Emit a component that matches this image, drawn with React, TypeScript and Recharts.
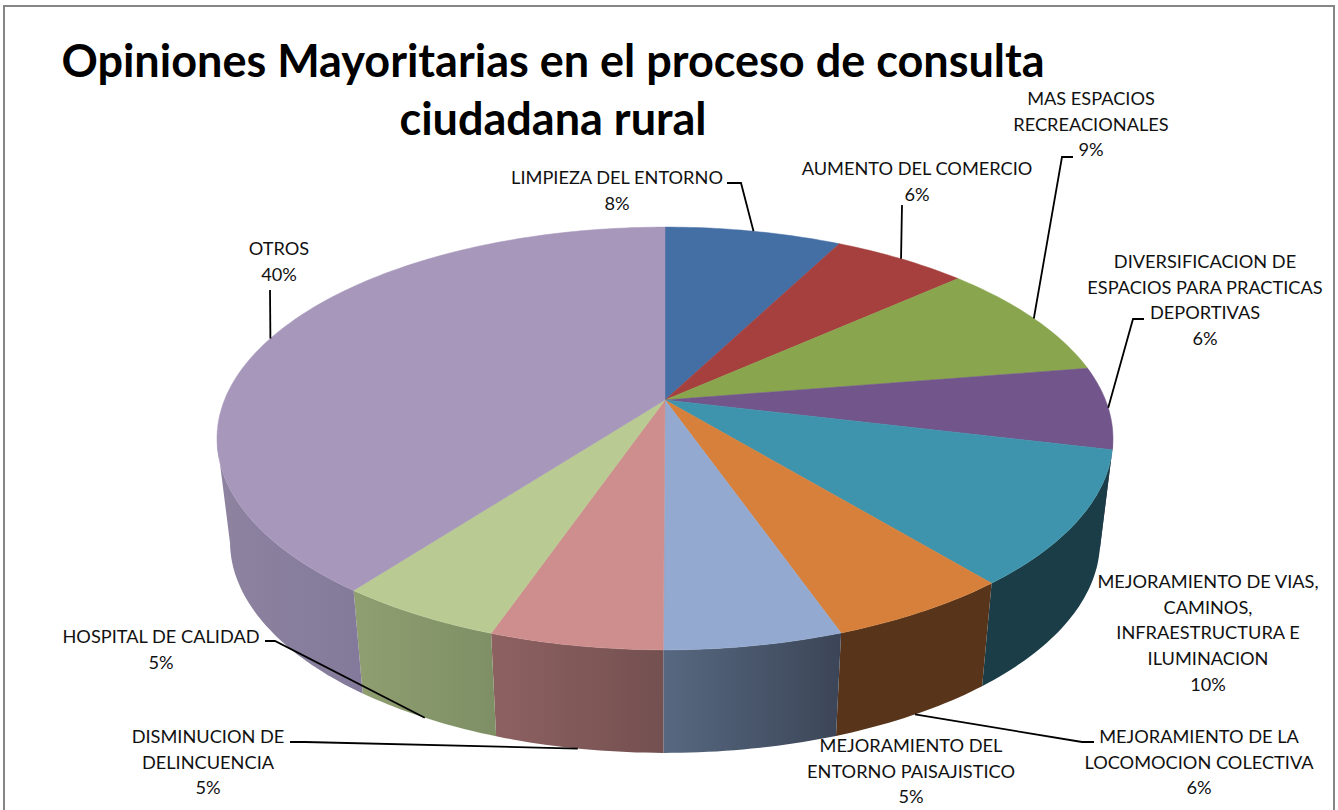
import { PieChart, Pie } from 'recharts';

const categories = [
  'LIMPIEZA DEL ENTORNO',
  'AUMENTO DEL COMERCIO',
  'MAS ESPACIOS RECREACIONALES',
  'DIVERSIFICACION DE ESPACIOS PARA PRACTICAS DEPORTIVAS',
  'MEJORAMIENTO DE VIAS, CAMINOS, INFRAESTRUCTURA E ILUMINACION',
  'MEJORAMIENTO DE LA LOCOMOCION COLECTIVA',
  'MEJORAMIENTO DEL ENTORNO PAISAJISTICO',
  'DISMINUCION DE DELINCUENCIA',
  'HOSPITAL DE CALIDAD',
  'OTROS',
];
const values = [7.6, 5.8, 9.05, 6.3, 10.25, 5.63, 5.42, 5.25, 5.03, 39.67];
const percentLabels = ['8%', '6%', '9%', '6%', '10%', '6%', '5%', '5%', '5%', '40%'];

const data = categories.map((name, i) => ({ name, value: values[i] }));

// colores de la cara superior y degradado de la pared
const topColors = ['#446FA5', '#A5403E', '#89A54E', '#71558B', '#3F94AD', '#D7803B', '#93A9CF', '#CE8E8D', '#B9CB92', '#A797BB'];
const wallFrom = ['#2A4566', '#672827', '#556630', '#463556', '#1A3D47', '#57341A', '#566880', '#8E6161', '#8F9F70', '#8E84A0'];
const wallTo = ['#2A4566', '#672827', '#556630', '#463556', '#1A3D47', '#57341A', '#3C4557', '#745050', '#7E8F66', '#83799A'];

// caja de cada etiqueta: lineas, centro, primera linea y codo de la guia
const labelLayout = [
  { lines: ['LIMPIEZA DEL ENTORNO'], x: 617, y: 177, elbow: [[727, 183], [741, 183]] },
  { lines: ['AUMENTO DEL COMERCIO'], x: 917, y: 168, elbow: [[902, 205]] },
  { lines: ['MAS ESPACIOS', 'RECREACIONALES'], x: 1091, y: 98, elbow: [[1073, 157], [1062, 157]] },
  { lines: ['DIVERSIFICACION DE', 'ESPACIOS PARA PRACTICAS', 'DEPORTIVAS'], x: 1205, y: 261, elbow: [[1144, 319], [1133, 319]] },
  { lines: ['MEJORAMIENTO DE VIAS,', 'CAMINOS,', 'INFRAESTRUCTURA E', 'ILUMINACION'], x: 1208, y: 581, elbow: [] },
  { lines: ['MEJORAMIENTO DE LA', 'LOCOMOCION COLECTIVA'], x: 1199, y: 736, elbow: [[1094, 742], [1082, 742]], onWall: true },
  { lines: ['MEJORAMIENTO DEL', 'ENTORNO PAISAJISTICO'], x: 911, y: 745, elbow: [] },
  { lines: ['DISMINUCION DE', 'DELINCUENCIA'], x: 208, y: 736, elbow: [[290, 742], [305, 742]], onWall: true },
  { lines: ['HOSPITAL DE CALIDAD'], x: 161, y: 636, elbow: [[265, 641], [275, 641]], onWall: true },
  { lines: ['OTROS'], x: 279, y: 248, elbow: [[270, 290]] },
];

const FONT = 'Lato, sans-serif';
const TILT = 0.464;
const PERSPECTIVE = 0.182;
const WALL_DROP = 103;
const WALL_SCALE = 0.971;
const RAD = Math.PI / 180;

// proyecta un angulo de la torta sobre el disco inclinado
function project(cx: number, cy: number, r: number, angle: number, lower = false) {
  const u = Math.cos(angle * RAD);
  const v = Math.sin(angle * RAD);
  const s = 1 / (1 + PERSPECTIVE * v);
  const dx = r * u * s;
  const dy = -r * TILT * v * s;
  return lower
    ? [cx + dx * WALL_SCALE, cy + dy + WALL_DROP]
    : [cx + dx, cy + dy];
}

function arcPoints(p: any, lower = false) {
  const pts: number[][] = [];
  const steps = Math.max(2, Math.ceil(Math.abs(p.endAngle - p.startAngle)));
  for (let i = 0; i <= steps; i++) {
    const a = p.startAngle + ((p.endAngle - p.startAngle) * i) / steps;
    pts.push([a, ...project(p.cx, p.cy, p.outerRadius, a, lower)]);
  }
  return pts;
}

const toPath = (pts: number[][]) => pts.map((q, i) => `${i ? 'L' : 'M'}${q[0].toFixed(1)} ${q[1].toFixed(1)}`).join(' ');

function TopFace(props: any) {
  const idx = categories.indexOf(props.name);
  const rim = arcPoints(props).map((q) => [q[1], q[2]]);
  return <path d={`${toPath([[props.cx, props.cy], ...rim])} Z`} fill={topColors[idx]} stroke={topColors[idx]} strokeWidth={0.5} />;
}

function WallFace(props: any) {
  const idx = categories.indexOf(props.name);
  // solo se ve la pared por debajo de la silueta del disco
  const front = (q: number[]) => Math.sin(q[0] * RAD) < -PERSPECTIVE;
  const upper = arcPoints(props).filter(front).map((q) => [q[1], q[2]]);
  const lower = arcPoints(props, true).filter(front).map((q) => [q[1], q[2]]);
  if (upper.length < 2) return null;
  return <path d={`${toPath([...upper, ...lower.reverse()])} Z`} fill={`url(#wall${idx})`} />;
}

function SliceLabel(props: any) {
  const { cx, cy, outerRadius, midAngle } = props;
  const idx = categories.indexOf(props.name);
  const box = labelLayout[idx];
  const anchor = project(cx, cy, outerRadius, midAngle, !!box.onWall);
  const lines = [...box.lines, percentLabels[idx]];
  return (
    <g>
      {box.elbow.length > 0 && (
        <polyline
          points={[...box.elbow, anchor].map((q) => q.join(',')).join(' ')}
          fill="none"
          stroke="#000"
          strokeWidth={1.8}
        />
      )}
      <text textAnchor="middle" fontFamily={FONT} fontSize={18.2} fill="#111">
        {lines.map((line, i) => (
          <tspan key={i} x={box.x} y={box.y + i * 25.7} dominantBaseline="central">{line}</tspan>
        ))}
      </text>
    </g>
  );
}

export default function App() {
  return (
    <div style={{ position: 'absolute', left: 0, top: 0, width: 1338, height: 810, overflow: 'hidden', background: '#fff' }}>
      <div style={{ position: 'absolute', left: 3, top: 5, width: 1328, height: 900, border: '2px solid #868686' }} />
      <div
        style={{
          position: 'absolute',
          left: 0,
          top: 31,
          width: 1106,
          textAlign: 'center',
          fontFamily: FONT,
          fontWeight: 700,
          fontSize: 45,
          lineHeight: '58px',
          color: '#000',
        }}
      >
        Opiniones Mayoritarias en el proceso de consulta
        <br />
        ciudadana rural
      </div>
      <div style={{ position: 'absolute', left: 0, top: 0 }}>
        <PieChart width={1338} height={810} margin={{ top: 0, right: 0, bottom: 0, left: 0 }}>
          <defs>
            {categories.map((_, i) => (
              <linearGradient key={i} id={`wall${i}`} x1="0" y1="0" x2="1" y2="0">
                <stop offset="0%" stopColor={wallFrom[i]} />
                <stop offset="100%" stopColor={wallTo[i]} />
              </linearGradient>
            ))}
          </defs>
          {/* paredes primero, la cara superior las tapa */}
          <Pie
            data={data}
            dataKey="value"
            nameKey="name"
            cx={665}
            cy={400}
            outerRadius={440.5}
            startAngle={90}
            endAngle={-270}
            stroke="none"
            shape={WallFace}
            isAnimationActive={false}
          />
          <Pie
            data={data}
            dataKey="value"
            nameKey="name"
            cx={665}
            cy={400}
            outerRadius={440.5}
            startAngle={90}
            endAngle={-270}
            stroke="none"
            shape={TopFace}
            label={SliceLabel}
            labelLine={false}
            isAnimationActive={false}
          />
        </PieChart>
      </div>
    </div>
  );
}
